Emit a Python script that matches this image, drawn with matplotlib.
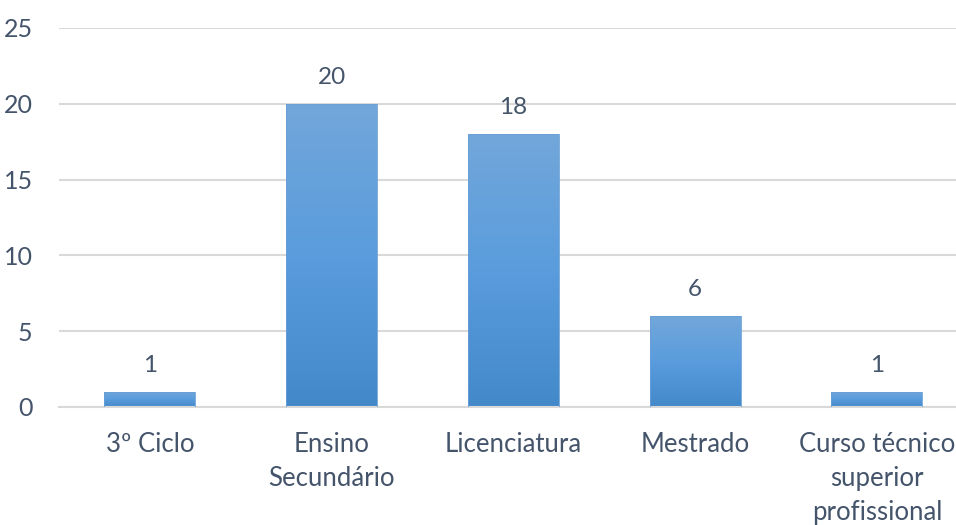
import numpy as np
import matplotlib.pyplot as plt
from matplotlib.colors import LinearSegmentedColormap

# dados
categorias = ["3º Ciclo", "Ensino\nSecundário", "Licenciatura", "Mestrado",
              "Curso técnico\nsuperior\nprofissional"]
valores = [1, 20, 18, 6, 1]

TXT = "#44546A"
GRID = "#D9D9D9"

plt.rcParams["font.family"] = ["Lato", "DejaVu Sans"]

fig = plt.figure(figsize=(9.56, 5.25), dpi=100)
ax = fig.add_axes([59 / 956, 118 / 525, 1 - 59 / 956, 379 / 525])

x = np.arange(len(valores))
bars = ax.bar(x, valores, width=0.5, color="none", edgecolor="#6A9FD6",
              linewidth=0.6, zorder=3)

# gradiente vertical em cada barra
cmap = LinearSegmentedColormap.from_list("g", ["#4389CA", "#5A9CDD", "#72A7DA"])
grad = np.linspace(0, 1, 256).reshape(-1, 1)
for b in bars:
    x0, y0 = b.get_x(), b.get_y()
    w, h = b.get_width(), b.get_height()
    im = ax.imshow(grad, cmap=cmap, aspect="auto", origin="lower",
                   extent=[x0, x0 + w, y0, y0 + h], zorder=2)
    im.set_clip_path(b)

for xi, v in zip(x, valores):
    ax.annotate(str(v), (xi, v), xytext=(0, 19), textcoords="offset points",
                ha="center", va="center", fontsize=17.5, color=TXT)

ax.set_xlim(-0.5, 4.435)
ax.set_ylim(0, 25)
ax.set_yticks([0, 5, 10, 15, 20, 25])
ax.set_xticks(x)
ax.set_xticklabels(categorias, fontsize=18.5, color=TXT, linespacing=1.45)
ax.tick_params(axis="y", labelsize=18, labelcolor=TXT, length=0, pad=19)
ax.tick_params(axis="x", length=0, pad=18)

ax.grid(axis="y", color=GRID, linewidth=1.5, zorder=0)
ax.set_axisbelow(True)
for s in ["top", "right", "left"]:
    ax.spines[s].set_visible(False)
ax.spines["bottom"].set_color(GRID)
ax.spines["bottom"].set_linewidth(1.5)

fig.savefig("out.png", dpi=100)
